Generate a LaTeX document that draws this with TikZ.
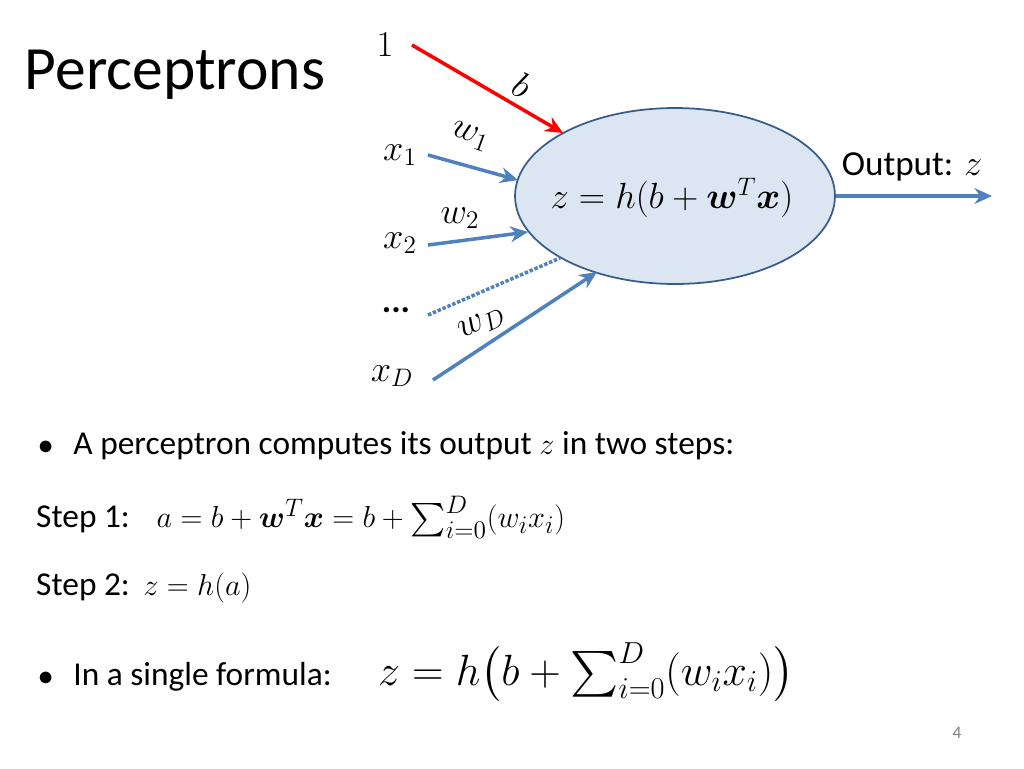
\documentclass[tikz,border=0pt]{standalone}
\usepackage{amsmath,amssymb,bm}
\usepackage{fontspec}
\setmainfont{Carlito}
\usepackage{tikz}
\usetikzlibrary{positioning,shapes.geometric,arrows.meta}
\definecolor{wblue}{RGB}{79,129,189}
\definecolor{fillblue}{RGB}{220,230,242}
\definecolor{edgeblue}{RGB}{56,93,138}
\tikzset{
  wire/.style={wblue, line width=2pt, -{Stealth[length=10pt,width=9pt]}},
  lbl/.style={font=\fontsize{20}{24}\selectfont},
  body/.style={font=\fontsize{19}{23}\selectfont, anchor=west},
}
\begin{document}
\begin{tikzpicture}[x=0.02cm,y=-0.02cm]
    \useasboundingbox (0,0) rectangle (1024,768);
    
    \node[font=\fontsize{35}{40}\selectfont] (title) at (175,75) {Perceptrons};
    
    % the neuron
    \node[ellipse, draw=edgeblue, fill=fillblue, line width=1pt,
          minimum width=6.4cm, minimum height=3.52cm, inner sep=0pt] (cell) at (675,196) {};
    \node[lbl] (eq) at (672,198) {$z = h(b+\bm{w}^T\bm{x})$};
    
    % inputs
    \node[lbl] (one) at (385,45) {$1$};
    \node[lbl] (x1) at (400,155) {$x_1$};
    \node[lbl] (x2) at (400,243) {$x_2$};
    \node[lbl] (dots) at (396,310) {\textbf{...}};
    \node[lbl] (xD) at (392,376) {$x_D$};
    
    \coordinate (bS) at (412,45);  \coordinate (bE) at (563,133);
    \coordinate (aS) at (428,155); \coordinate (aE) at (518,180);
    \coordinate (cS) at (428,245); \coordinate (cE) at (528,232);
    \coordinate (dS) at (428,315); \coordinate (dE) at (560,258);
    \coordinate (eS) at (433,380); \coordinate (eE) at (597,272);
    \coordinate (oE) at (992,196);
    
    \draw[red, line width=2pt, -{Stealth[length=10pt,width=9pt]}] (bS) -- (bE);
    \draw[wire] (aS) -- (aE);
    \draw[wire] (cS) -- (cE);
    \draw[wblue, line width=2pt, densely dotted] (dS) -- (dE);
    \draw[wire] (eS) -- (eE);
    \draw[wire] (cell.east) -- (oE);
    
    % weights
    \node[lbl, rotate=-30, inner sep=0pt] (wb) at (522,85) {$b$};
    \node[lbl, rotate=-20, inner sep=0pt] (w1) at (470,136) {$w_1$};
    \node[lbl] (w2) at (460,218) {$w_2$};
    \node[lbl, rotate=25, inner sep=0pt] (wD) at (482,324) {$w_D$};
    \node[lbl] (out) at (912,167) {Output: $z$};
    
    % text below
    \node[body] (bul1) at (32,446) {$\bullet$\hspace{0.6em}A perceptron computes its output $z$ in two steps:};
    \node[body] (st1) at (30,517) {Step 1:\hspace{0.8em}$a = b+\bm{w}^T\bm{x} = b+\sum_{i=0}^{D}(w_i x_i)$};
    \node[body] (st2) at (30,588) {Step 2:\hspace{0.4em}$z = h(a)$};
    \node[body] (bul2) at (32,677) {$\bullet$\hspace{0.6em}In a single formula:};
    \node[anchor=west, font=\fontsize{26}{31}\selectfont] (big) at (372,672)
        {$z = h\bigl(b+\sum_{i=0}^{D}(w_i x_i)\bigr)$};
    \node[gray, font=\fontsize{10}{12}\selectfont] (pg) at (957,733) {4};
\end{tikzpicture}
\end{document}
